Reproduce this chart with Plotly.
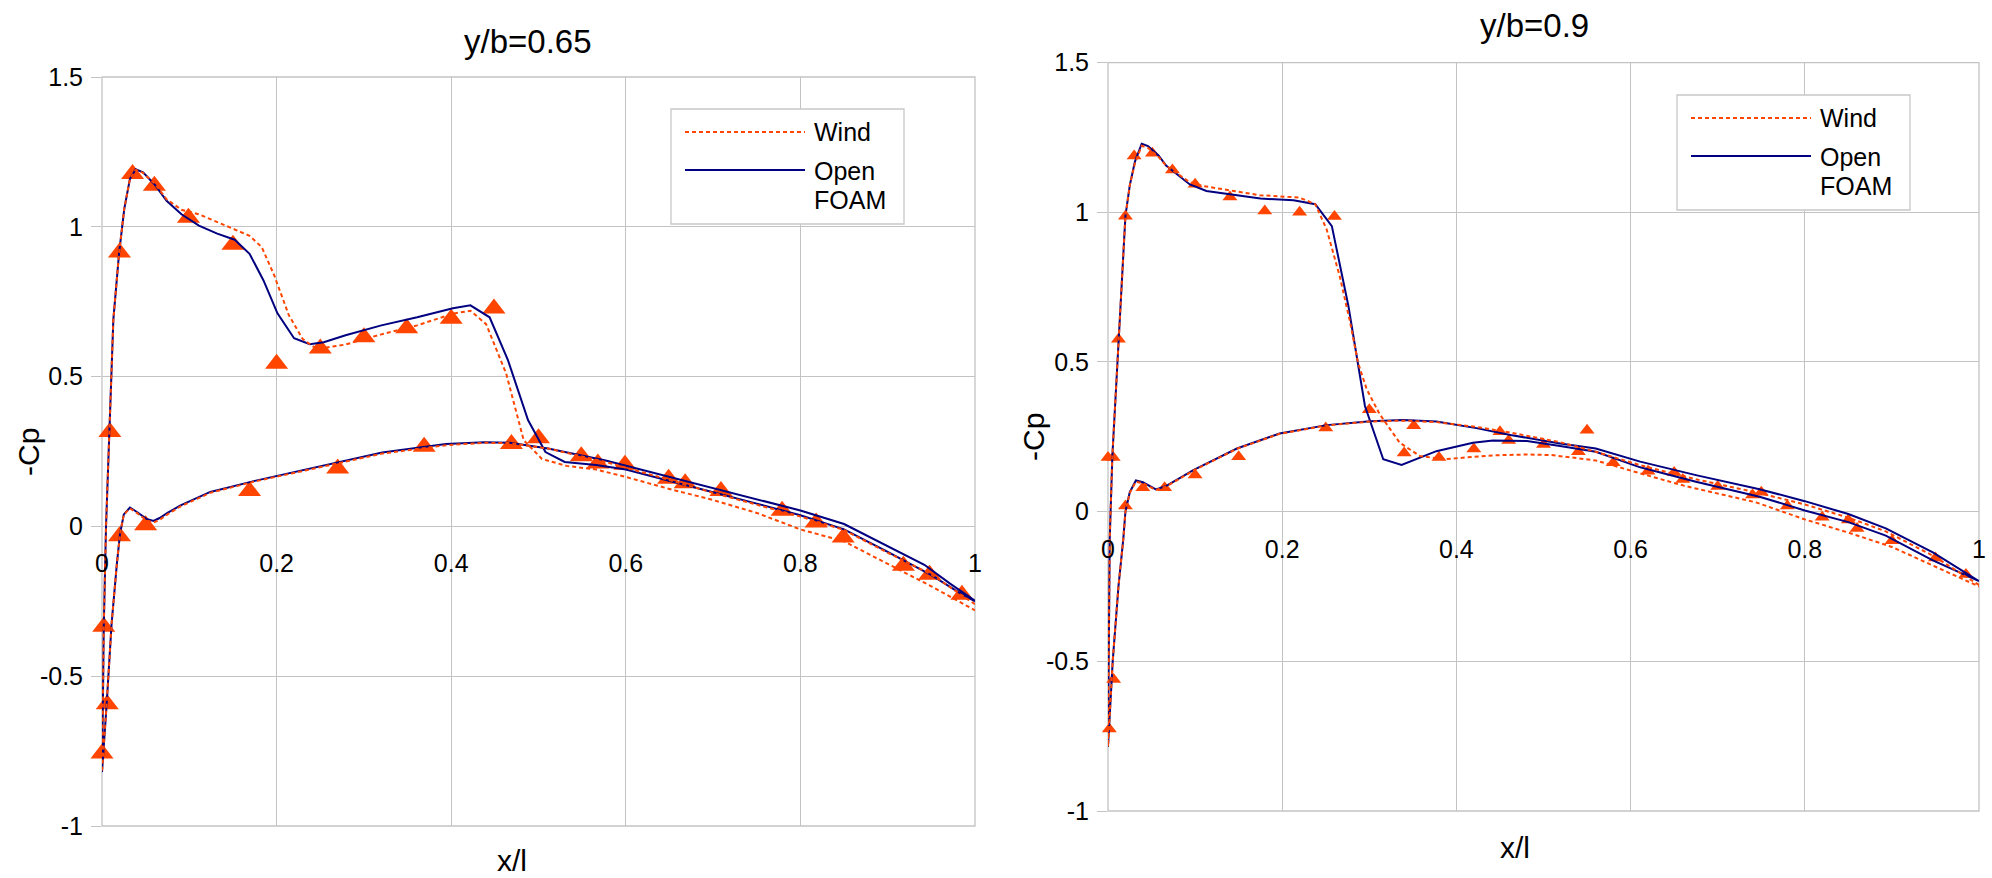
import plotly.graph_objects as go

W, H = 1992, 878

# ---------------- data : y/b = 0.65 ----------------
L_exp_x = [0.0, 0.002, 0.006, 0.009, 0.02, 0.02, 0.035, 0.05, 0.06, 0.099, 0.15, 0.169,
           0.2, 0.25, 0.27, 0.3, 0.349, 0.369, 0.4, 0.449, 0.469, 0.5, 0.549, 0.568,
           0.599, 0.649, 0.668, 0.709, 0.779, 0.818, 0.849, 0.918, 0.948, 0.985]
L_exp_y = [-0.758, -0.335, -0.594, 0.315, -0.033, 0.914, 1.176, 0.004, 1.137, 1.03, 0.94, 0.118,
           0.543, 0.594, 0.193, 0.631, 0.661, 0.266, 0.693, 0.727, 0.275, 0.294, 0.234, 0.21,
           0.206, 0.159, 0.144, 0.118, 0.052, 0.013, -0.037, -0.131, -0.161, -0.228]

L_foam_up_x = [0.0, 0.001, 0.002, 0.0046, 0.0084, 0.013, 0.0195, 0.0255, 0.032, 0.0386, 0.047,
               0.060, 0.074, 0.091, 0.111, 0.132, 0.152, 0.169, 0.185, 0.201, 0.220, 0.238,
               0.254, 0.279, 0.320, 0.361, 0.402, 0.422, 0.444, 0.465, 0.488, 0.508, 0.530,
               0.566, 0.600, 0.650, 0.700, 0.750, 0.800, 0.850, 0.900, 0.950, 0.980, 1.000]
L_foam_up_y = [-0.82, -0.6, -0.34, 0.0, 0.31, 0.69, 0.91, 1.06, 1.16, 1.192, 1.182,
               1.142, 1.087, 1.042, 1.004, 0.977, 0.957, 0.91, 0.821, 0.711, 0.628, 0.608,
               0.615, 0.638, 0.671, 0.698, 0.728, 0.738, 0.698, 0.555, 0.355, 0.248, 0.215,
               0.205, 0.19, 0.153, 0.114, 0.076, 0.037, -0.01, -0.085, -0.163, -0.218, -0.25]
L_foam_lo_x = [0.0, 0.0054, 0.011, 0.017, 0.0206, 0.025, 0.032, 0.040, 0.051, 0.059, 0.066,
               0.075, 0.09, 0.124, 0.175, 0.248, 0.321, 0.394, 0.438, 0.467, 0.511, 0.577,
               0.6, 0.65, 0.7, 0.75, 0.8, 0.85, 0.9, 0.942, 0.971, 1.0]
L_foam_lo_y = [-0.82, -0.59, -0.325, -0.126, -0.026, 0.04, 0.063, 0.048, 0.025, 0.018, 0.028,
               0.045, 0.07, 0.115, 0.152, 0.2, 0.247, 0.275, 0.281, 0.279, 0.26, 0.22,
               0.203, 0.166, 0.127, 0.09, 0.053, 0.008, -0.065, -0.128, -0.19, -0.248]

L_wind_up_x = [0.0, 0.001, 0.002, 0.0046, 0.0084, 0.013, 0.0195, 0.0255, 0.032, 0.0386, 0.047,
               0.060, 0.074, 0.091, 0.111, 0.148, 0.169, 0.183, 0.197, 0.214, 0.230, 0.246,
               0.279, 0.320, 0.361, 0.402, 0.422, 0.440, 0.463, 0.483, 0.504, 0.532, 0.566,
               0.6, 0.65, 0.7, 0.75, 0.8, 0.85, 0.9, 0.95, 1.0]
L_wind_up_y = [-0.82, -0.6, -0.34, 0.0, 0.31, 0.69, 0.91, 1.06, 1.16, 1.19, 1.18,
               1.145, 1.092, 1.057, 1.042, 0.997, 0.97, 0.932, 0.84, 0.705, 0.625, 0.592,
               0.607, 0.641, 0.671, 0.71, 0.72, 0.675, 0.51, 0.288, 0.225, 0.202, 0.19,
               0.165, 0.125, 0.088, 0.045, -0.01, -0.05, -0.125, -0.2, -0.28]
L_wind_lo_x = [0.0, 0.0054, 0.011, 0.017, 0.0206, 0.025, 0.032, 0.040, 0.051, 0.059, 0.066,
               0.075, 0.09, 0.124, 0.175, 0.248, 0.321, 0.394, 0.438, 0.467, 0.511, 0.577,
               0.6, 0.65, 0.7, 0.75, 0.8, 0.85, 0.9, 0.95, 1.0]
L_wind_lo_y = [-0.82, -0.59, -0.325, -0.126, -0.026, 0.04, 0.06, 0.045, 0.02, 0.013, 0.022,
               0.04, 0.067, 0.112, 0.15, 0.197, 0.243, 0.271, 0.279, 0.278, 0.26, 0.215,
               0.195, 0.155, 0.112, 0.072, 0.033, -0.012, -0.088, -0.16, -0.26]

# ---------------- data : y/b = 0.9 ----------------
R_exp_x = [0.0015, 0.0065, 0.0, 0.006, 0.012, 0.02, 0.02, 0.03, 0.04, 0.051, 0.065, 0.074,
           0.1, 0.1, 0.14, 0.15, 0.18, 0.22, 0.25, 0.26, 0.30, 0.34, 0.351, 0.38, 0.42,
           0.45, 0.46, 0.50, 0.54, 0.55, 0.58, 0.62, 0.65, 0.66, 0.70, 0.74, 0.75, 0.78,
           0.82, 0.85, 0.86, 0.90, 0.95, 0.985]
R_exp_y = [-0.726, -0.561, 0.181, 0.181, 0.576, 0.987, 0.019, 1.188, 0.08, 1.197, 0.08, 1.141,
           1.094, 0.122, 1.051, 0.183, 1.004, 1.0, 0.279, 0.986, 0.34, 0.196, 0.287, 0.181, 0.209,
           0.267, 0.238, 0.224, 0.2, 0.272, 0.163, 0.135, 0.131, 0.107, 0.084, 0.056, 0.065, 0.019,
           -0.019, -0.028, -0.056, -0.097, -0.155, -0.21]

R_foam_up_x = [0.0, 0.001, 0.002, 0.005, 0.012, 0.020, 0.025, 0.031, 0.0387, 0.046, 0.058,
               0.067, 0.094, 0.113, 0.175, 0.213, 0.238, 0.257, 0.276, 0.295, 0.316, 0.337,
               0.377, 0.419, 0.442, 0.481, 0.519, 0.56, 0.611, 0.675, 0.748, 0.8, 0.85,
               0.893, 0.947, 1.0]
R_foam_up_y = [-0.785, -0.5, -0.09, 0.186, 0.576, 0.987, 1.09, 1.17, 1.229, 1.221, 1.19,
               1.155, 1.093, 1.071, 1.046, 1.04, 1.027, 0.954, 0.687, 0.353, 0.175, 0.156,
               0.202, 0.23, 0.238, 0.236, 0.219, 0.2, 0.148, 0.1, 0.05, 0.004, -0.035,
               -0.08, -0.163, -0.232]
R_foam_lo_x = [0.0, 0.0054, 0.012, 0.0176, 0.02, 0.025, 0.032, 0.04, 0.055, 0.067, 0.098,
               0.148, 0.197, 0.251, 0.301, 0.339, 0.377, 0.423, 0.462, 0.519, 0.56, 0.611,
               0.675, 0.748, 0.8, 0.85, 0.893, 0.947, 1.0]
R_foam_lo_y = [-0.785, -0.5, -0.25, -0.09, 0.0, 0.065, 0.104, 0.098, 0.074, 0.086, 0.139,
               0.211, 0.261, 0.289, 0.302, 0.306, 0.301, 0.279, 0.256, 0.228, 0.211, 0.167,
               0.122, 0.075, 0.035, -0.008, -0.056, -0.136, -0.232]

R_wind_up_x = [0.0, 0.001, 0.002, 0.005, 0.012, 0.020, 0.025, 0.031, 0.0387, 0.046, 0.058,
               0.067, 0.094, 0.109, 0.1745, 0.22, 0.238, 0.251, 0.266, 0.278, 0.287, 0.297,
               0.312, 0.335, 0.358, 0.385, 0.442, 0.481, 0.509, 0.56, 0.611, 0.662, 0.744,
               0.8, 0.85, 0.9, 0.947, 1.0]
R_wind_up_y = [-0.785, -0.5, -0.09, 0.186, 0.576, 0.987, 1.09, 1.165, 1.222, 1.215, 1.185,
               1.155, 1.1, 1.088, 1.057, 1.049, 1.027, 0.943, 0.787, 0.632, 0.498, 0.409,
               0.325, 0.23, 0.186, 0.175, 0.188, 0.191, 0.189, 0.171, 0.128, 0.086, 0.031,
               -0.026, -0.07, -0.118, -0.18, -0.25]
R_wind_lo_x = [0.0, 0.0054, 0.012, 0.0176, 0.02, 0.025, 0.032, 0.04, 0.055, 0.067, 0.098,
               0.148, 0.197, 0.251, 0.301, 0.339, 0.377, 0.423, 0.462, 0.519, 0.56, 0.611,
               0.675, 0.748, 0.8, 0.85, 0.893, 0.947, 1.0]
R_wind_lo_y = [-0.785, -0.5, -0.25, -0.09, 0.0, 0.063, 0.1, 0.095, 0.072, 0.084, 0.137,
               0.21, 0.26, 0.288, 0.301, 0.304, 0.299, 0.283, 0.264, 0.232, 0.2, 0.155,
               0.108, 0.062, 0.024, -0.02, -0.066, -0.147, -0.245]

TITLES = ["y/b=0.65", "y/b=0.9"]
X_TITLE = "x/l"
Y_TITLE = "-Cp"
SERIES = ["Wind", "Open FOAM"]
X_TICKS = [0, 0.2, 0.4, 0.6, 0.8, 1]
X_TICKTEXT = ["0", "0.2", "0.4", "0.6", "0.8", "1"]
Y_TICKS = [-1, -0.5, 0, 0.5, 1, 1.5]
Y_TICKTEXT = ["-1", "-0.5", "0", "0.5", "1", "1.5"]

# ---------------- styling ----------------
FONT = "Liberation Sans, Arial, sans-serif"
ORANGE = "#ff4500"
NAVY = "#000080"
GRID = "#c3c3c3"

def loop(lo_x, lo_y, up_x, up_y):
    return lo_x[::-1] + up_x[1:], lo_y[::-1] + up_y[1:]

fig = go.Figure()

panels = [
    dict(xa="x", ya="y", exp=(L_exp_x, L_exp_y), msize=20,
         foam=loop(L_foam_lo_x, L_foam_lo_y, L_foam_up_x, L_foam_up_y),
         wind=loop(L_wind_lo_x, L_wind_lo_y, L_wind_up_x, L_wind_up_y),
         px=(102, 975), py=(77, 826), title=(528, 41), xt=(512, 860), yt=(28, 452),
         leg=(671, 109)),
    dict(xa="x2", ya="y2", exp=(R_exp_x, R_exp_y), msize=13,
         foam=loop(R_foam_lo_x, R_foam_lo_y, R_foam_up_x, R_foam_up_y),
         wind=loop(R_wind_lo_x, R_wind_lo_y, R_wind_up_x, R_wind_up_y),
         px=(1108, 1979), py=(62.6, 811), title=(1534, 25), xt=(1515, 847), yt=(1033, 437),
         leg=(1677, 95)),
]

shapes = []
annotations = []

def fx(p):
    return p / W

def fy(p):
    return 1 - p / H

for i, p in enumerate(panels):
    fig.add_trace(go.Scatter(x=p["exp"][0], y=p["exp"][1], mode="markers", name="Experiment",
                             showlegend=False, cliponaxis=False,
                             marker=dict(symbol="triangle-up", size=p["msize"], color=ORANGE),
                             xaxis=p["xa"], yaxis=p["ya"]))
    fig.add_trace(go.Scatter(x=p["foam"][0], y=p["foam"][1], mode="lines", name=SERIES[1],
                             showlegend=False, cliponaxis=False,
                             line=dict(color=NAVY, width=2),
                             xaxis=p["xa"], yaxis=p["ya"]))
    fig.add_trace(go.Scatter(x=p["wind"][0], y=p["wind"][1], mode="lines", name=SERIES[0],
                             showlegend=False, cliponaxis=False,
                             line=dict(color=ORANGE, width=2, dash="4px,3px"),
                             xaxis=p["xa"], yaxis=p["ya"]))

    dx = [fx(p["px"][0]), fx(p["px"][1])]
    dy = [fy(p["py"][1]), fy(p["py"][0])]
    xpos = dy[0] + 0.4 * (dy[1] - dy[0])
    suffix = "" if i == 0 else "2"
    fig.layout["xaxis" + suffix] = dict(
        domain=dx, range=[0, 1], anchor="free", position=xpos, automargin=False,
        tickvals=X_TICKS, ticktext=X_TICKTEXT, showgrid=True, gridcolor=GRID, gridwidth=1.3,
        zeroline=False, showline=False, ticks="", ticklabelstandoff=20,
        tickfont=dict(size=25, color="black", family=FONT))
    fig.layout["yaxis" + suffix] = dict(
        domain=dy, range=[-1, 1.5], anchor="x" + suffix, automargin=False,
        tickvals=Y_TICKS, ticktext=Y_TICKTEXT, showgrid=True, gridcolor=GRID, gridwidth=1.3,
        zeroline=False, showline=False, ticks="outside", ticklen=10, tickcolor=GRID,
        tickwidth=1.3, ticklabelstandoff=3,
        tickfont=dict(size=25, color="black", family=FONT))

    # plot frame
    shapes.append(dict(type="rect", xref=p["xa"] + " domain", yref=p["ya"] + " domain",
                       x0=0, x1=1, y0=0, y1=1, line=dict(color=GRID, width=1.3), layer="below"))

    annotations.append(dict(text=TITLES[i], x=fx(p["title"][0]), y=fy(p["title"][1]),
                            xref="paper", yref="paper", showarrow=False,
                            xanchor="center", yanchor="middle",
                            font=dict(size=33, color="black", family=FONT)))
    annotations.append(dict(text=X_TITLE, x=fx(p["xt"][0]), y=fy(p["xt"][1]),
                            xref="paper", yref="paper", showarrow=False,
                            xanchor="center", yanchor="middle",
                            font=dict(size=30, color="black", family=FONT)))
    annotations.append(dict(text=Y_TITLE, x=fx(p["yt"][0]), y=fy(p["yt"][1]), textangle=-90,
                            xref="paper", yref="paper", showarrow=False,
                            xanchor="center", yanchor="middle",
                            font=dict(size=30, color="black", family=FONT)))

    # custom legend
    lx, ly = p["leg"]
    shapes.append(dict(type="rect", xref="paper", yref="paper",
                       x0=fx(lx), x1=fx(lx + 233), y0=fy(ly + 115), y1=fy(ly),
                       line=dict(color="#c8c8c8", width=1.3), fillcolor="white", layer="above"))
    shapes.append(dict(type="line", xref="paper", yref="paper",
                       x0=fx(lx + 14), x1=fx(lx + 134), y0=fy(ly + 23), y1=fy(ly + 23),
                       line=dict(color=ORANGE, width=2, dash="4px,3px"), layer="above"))
    shapes.append(dict(type="line", xref="paper", yref="paper",
                       x0=fx(lx + 14), x1=fx(lx + 134), y0=fy(ly + 61), y1=fy(ly + 61),
                       line=dict(color=NAVY, width=2), layer="above"))
    for txt, off in (("Wind", 23), ("Open", 62), ("FOAM", 91)):
        annotations.append(dict(text=txt, x=fx(lx + 141), y=fy(ly + off),
                                xref="paper", yref="paper", showarrow=False,
                                xanchor="left", yanchor="middle",
                                font=dict(size=25, color="black", family=FONT)))

fig.update_layout(
    width=W, height=H, margin=dict(l=0, r=0, t=0, b=0, autoexpand=False),
    paper_bgcolor="white", plot_bgcolor="white",
    showlegend=False, shapes=shapes, annotations=annotations,
    font=dict(family=FONT, color="black"),
)

fig.write_html("out.html")
